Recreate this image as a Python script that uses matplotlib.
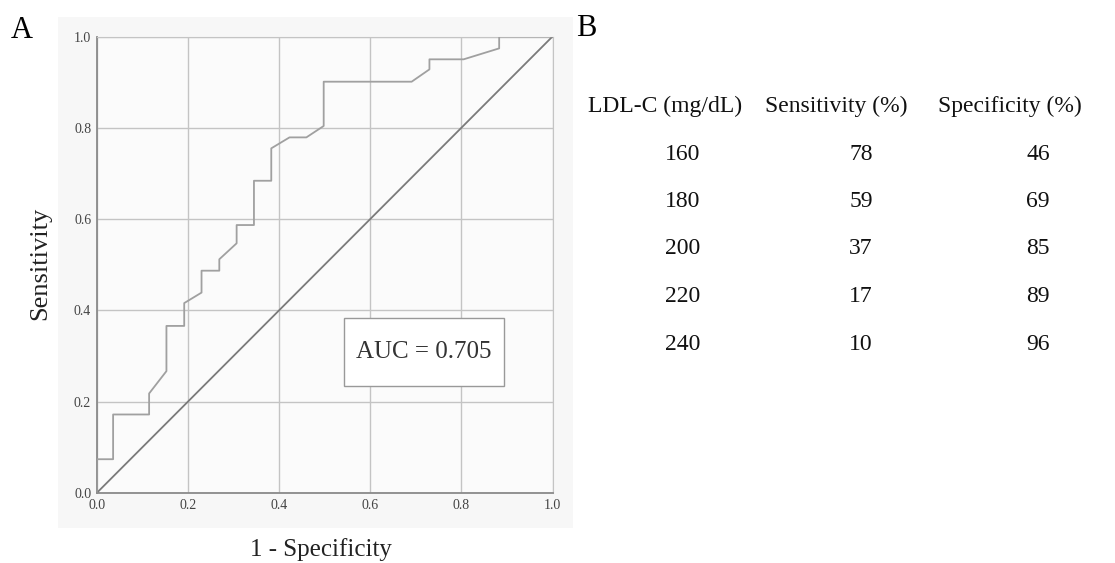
import numpy as np
import matplotlib
matplotlib.use('Agg')
import matplotlib.pyplot as plt
from matplotlib.patches import Rectangle

plt.rcParams['font.family'] = ['Liberation Serif', 'DejaVu Serif']

# ROC curve vertices (1 - specificity, sensitivity)
fpr = [0.0, 0.0, 0.036, 0.036, 0.115, 0.115, 0.153, 0.153, 0.192, 0.192,
       0.230, 0.230, 0.269, 0.269, 0.307, 0.307, 0.345, 0.345, 0.383, 0.383,
       0.423, 0.460, 0.498, 0.498, 0.691, 0.730, 0.730, 0.805, 0.883, 0.883, 1.0]
tpr = [0.0, 0.074, 0.074, 0.172, 0.172, 0.218, 0.267, 0.366, 0.366, 0.416,
       0.439, 0.487, 0.487, 0.512, 0.547, 0.587, 0.587, 0.684, 0.684, 0.755,
       0.779, 0.779, 0.804, 0.901, 0.901, 0.928, 0.950, 0.950, 0.974, 1.0, 1.0]
auc_text = 'AUC = 0.705'

# panel B table
col_heads = ['LDL-C (mg/dL)', 'Sensitivity (%)', 'Specificity (%)']
ldl = [160, 180, 200, 220, 240]
sens = [78, 59, 37, 17, 10]
spec = [46, 69, 85, 89, 96]

W, H = 1115, 563
fig = plt.figure(figsize=(W / 100, H / 100), dpi=100)

def fx(px):
    return px / W

def fy(py):
    return 1 - py / H

# light panel background behind A
bg = fig.add_axes([fx(58), fy(528), fx(573) - fx(58), fy(17) - fy(528)], zorder=-1)
bg.set_facecolor('#f7f7f7')
bg.set_xticks([])
bg.set_yticks([])
for s in bg.spines.values():
    s.set_visible(False)

ax = fig.add_axes([fx(96.7), fy(493), fx(552.5) - fx(96.7), fy(36.5) - fy(493)], zorder=1)
ax.set_facecolor('#fbfbfb')
ax.set_xlim(0, 1)
ax.set_ylim(0, 1)
ticks = np.arange(0, 1.01, 0.2)
ax.set_xticks(ticks)
ax.set_yticks(ticks)
ax.set_xticklabels(['%.1f' % t for t in ticks])
ax.set_yticklabels(['%.1f' % t for t in ticks])
ax.tick_params(length=0, labelsize=10, colors='#444444', pad=4)
ax.grid(True, color='#c4c4c4', linewidth=1.0)
ax.set_axisbelow(True)
for s in ['top', 'right']:
    ax.spines[s].set_color('#c4c4c4')
for s in ['left', 'bottom']:
    ax.spines[s].set_color('#8a8a8a')
    ax.spines[s].set_linewidth(1.3)

ax.plot([0, 1], [0, 1], color='#7a7a7a', linewidth=1.3, zorder=3)
ax.plot(fpr, tpr, color='#a0a0a0', linewidth=1.3, zorder=4)

# AUC label box
ax.add_patch(Rectangle((0.542, 0.234), 0.351, 0.149, transform=ax.transAxes,
                       facecolor='white', edgecolor='#999999', linewidth=1.0, zorder=5))
ax.text(0.717, 0.309, auc_text, transform=ax.transAxes, ha='center', va='center',
        fontsize=18, color='#333333', zorder=6)

fig.text(fx(321), fy(550), '1 - Specificity', ha='center', va='center', fontsize=18,
         color='#222222')
fig.text(fx(40), fy(263), 'Sensitivity', ha='center', va='center', fontsize=19,
         color='#222222', rotation=90)

fig.text(fx(22), fy(30), 'A', ha='center', va='center', fontsize=22)
fig.text(fx(586), fy(28), 'B', ha='center', va='center', fontsize=22)

# table in panel B
head_x = [588, 765, 938]
col_x = [683, 861, 1038]
row_y = [154, 201.5, 249, 297, 345]
for hx, h in zip(head_x, col_heads):
    fig.text(fx(hx), fy(106), h, ha='left', va='center', fontsize=17, color='#111111')
for i in range(len(ldl)):
    for cx, v in zip(col_x, [ldl[i], sens[i], spec[i]]):
        fig.text(fx(cx), fy(row_y[i]), str(v), ha='center', va='center', fontsize=17,
                 color='#111111')

fig.savefig('out.png', dpi=100)
